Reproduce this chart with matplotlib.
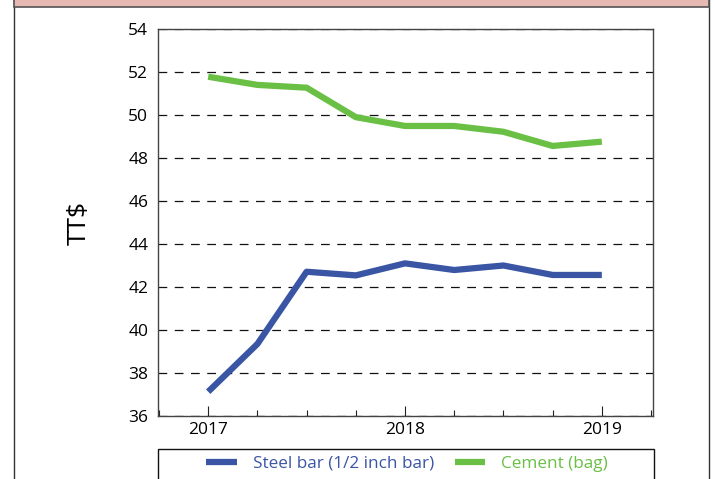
import matplotlib
matplotlib.use("Agg")
import matplotlib.pyplot as plt
from matplotlib.patches import Rectangle
from matplotlib.ticker import MultipleLocator

plt.rcParams['font.family'] = ['Open Sans', 'DejaVu Sans']

quarters = [2017.0, 2017.25, 2017.5, 2017.75, 2018.0, 2018.25, 2018.5, 2018.75, 2019.0]
steel = [37.13, 39.35, 42.71, 42.54, 43.10, 42.79, 43.00, 42.56, 42.56]
cement = [51.78, 51.40, 51.27, 49.90, 49.49, 49.49, 49.22, 48.56, 48.76]
year_ticks = [2017, 2018, 2019]
y_ticks = [36, 38, 40, 42, 44, 46, 48, 50, 52, 54]

blue = '#3a55a4'
green = '#6abf45'

W, H = 715, 479
fig = plt.figure(figsize=(W / 100, H / 100), dpi=100)

# outer frame and pink header
fig.patches.append(Rectangle((14/W, -0.1), (709-14)/W, 1.2, transform=fig.transFigure,
                             fill=False, edgecolor='#333333', lw=1.0, zorder=0))
fig.patches.append(Rectangle((14/W, 1-6.5/H), (709-14)/W, 10/H, transform=fig.transFigure,
                             facecolor='#e6b9b3', edgecolor='#555555', lw=1.2, zorder=1))

ax = fig.add_axes([158/W, 1-416/H, (653-158)/W, (416-29)/H])
ax.plot(quarters, steel, color=blue, lw=4.5, label='Steel bar (1/2 inch bar)', solid_capstyle='butt', zorder=3)
ax.plot(quarters, cement, color=green, lw=4.5, label='Cement (bag)', solid_capstyle='butt', zorder=3)

ax.set_xlim(2016.745, 2019.26)
ax.set_ylim(36, 54)
ax.set_yticks(y_ticks)
ax.set_xticks(year_ticks)
ax.set_xticklabels([str(y) for y in year_ticks])
ax.xaxis.set_minor_locator(MultipleLocator(0.25))
ax.tick_params(axis='x', which='major', direction='in', length=7, width=0.8, labelsize=12.5, pad=4, color='#222222')
ax.tick_params(axis='x', which='minor', direction='in', length=4, width=0.8, color='#222222')
ax.tick_params(axis='y', which='major', direction='in', length=0, labelsize=12.5, pad=7)
ax.grid(axis='y', linestyle=(0, (7, 6)), color='#111111', lw=0.9)
for s in ax.spines.values():
    s.set_color('#444444')
    s.set_linewidth(1.0)
ax.set_ylabel('TT$', fontsize=19, labelpad=26)

# legend box spanning the axes width
fig.patches.append(Rectangle((158/W, -0.1), (654-158)/W, 0.1 + (479-449)/H, transform=fig.transFigure,
                             fill=False, edgecolor='#111111', lw=1.0, zorder=2))
leg = fig.legend(loc='center', bbox_to_anchor=(407/W, 1 - 464/H), ncol=2,
                 frameon=False, fontsize=12.3, handlelength=1.8, handletextpad=0.95,
                 columnspacing=1.2)
for t, c in zip(leg.get_texts(), [blue, green]):
    t.set_color(c)

fig.savefig('out.png', dpi=100)
